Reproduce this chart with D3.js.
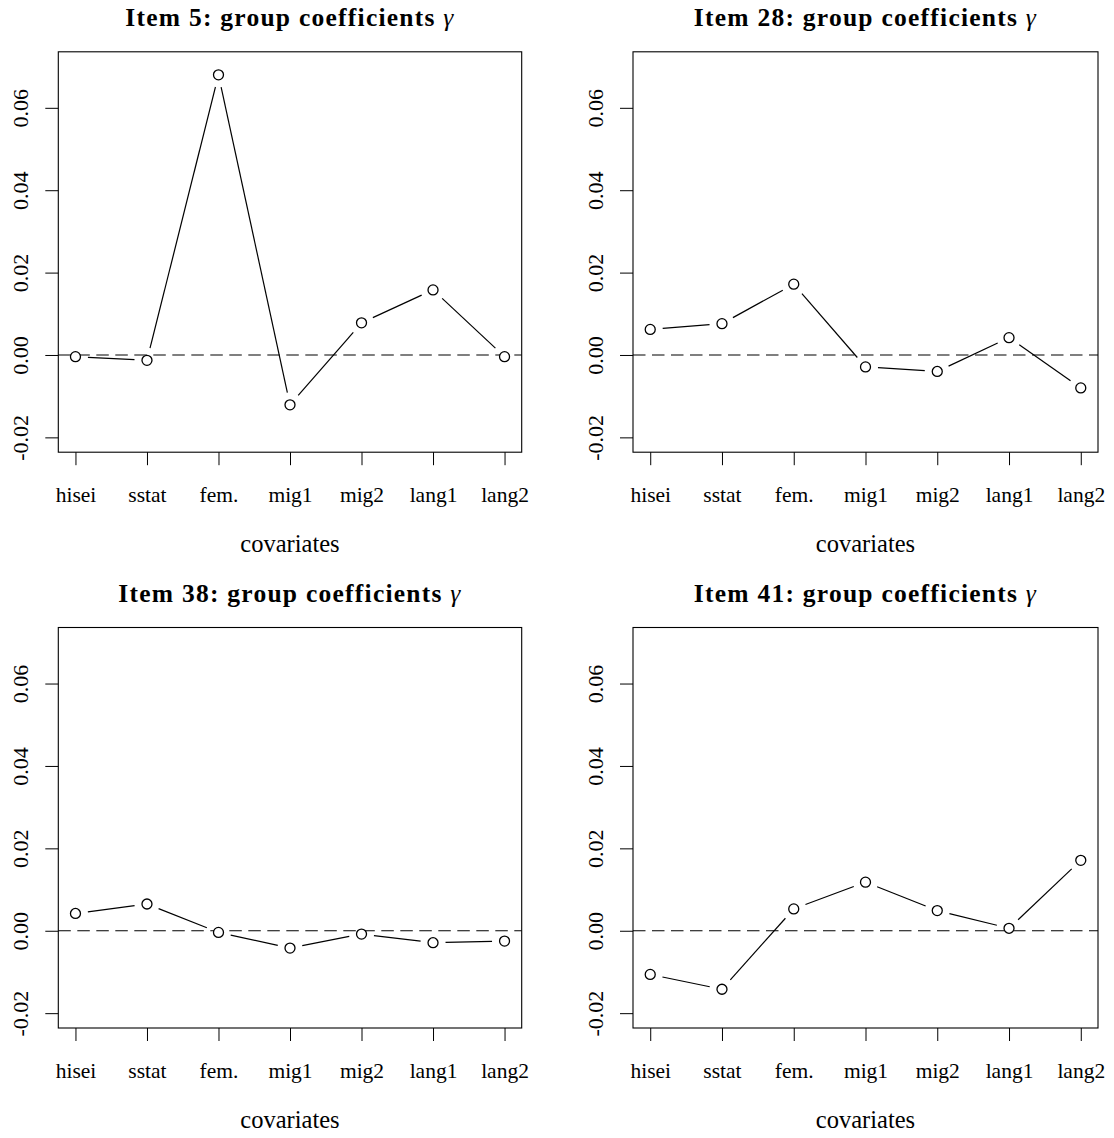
<!DOCTYPE html>
<html>
<head>
<meta charset="utf-8">
<script src="https://cdn.jsdelivr.net/npm/d3@7"></script>
<style>
  html, body { margin: 0; padding: 0; background: #fff; }
  svg { display: block; }
  text { font-family: "Liberation Serif", "Times New Roman", serif; fill: #000; }
</style>
</head>
<body>
<svg id="chart" width="1114" height="1138"></svg>
<script>
// ---- data ----
const categories = ["hisei", "sstat", "fem.", "mig1", "mig2", "lang1", "lang2"];
const itemNumbers = ["5", "28", "38", "41"];
const item5  = [-0.0004, -0.0013, 0.0680, -0.0121, 0.0078, 0.0158, -0.0004];
const item28 = [0.0062, 0.0076, 0.0172, -0.0029, -0.0040, 0.0042, -0.0080];
const item38 = [0.0042, 0.0065, -0.0004, -0.0042, -0.0008, -0.0029, -0.0025];
const item41 = [-0.0106, -0.0142, 0.0053, 0.0118, 0.0049, 0.0006, 0.0171];
const yTicks = [-0.02, 0.00, 0.02, 0.04, 0.06];
const yLimits = [-0.02, 0.07];
const xLabel = "covariates";

const series = [item5, item28, item38, item41];

// ---- layout ----
const panels = [
  {left: 58.3, right: 521.7, top: 51.8, bottom: 452.2},
  {left: 633, right: 1098, top: 51.8, bottom: 452.2},
  {left: 58.3, right: 521.7, top: 627.5, bottom: 1028},
  {left: 633, right: 1098, top: 627.5, bottom: 1028}
];

const svg = d3.select("#chart");
const pad = (a, b) => (b - a) * 0.04;

series.forEach((vals, i) => {
  const p = panels[i];
  const xd = [1, categories.length];
  const xs = d3.scaleLinear()
    .domain([xd[0] - pad(xd[0], xd[1]), xd[1] + pad(xd[0], xd[1])])
    .range([p.left, p.right]);
  const ys = d3.scaleLinear()
    .domain([yLimits[0] - pad(yLimits[0], yLimits[1]), yLimits[1] + pad(yLimits[0], yLimits[1])])
    .range([p.bottom, p.top]);

  const g = svg.append("g");

  // zero reference line (dashed)
  g.append("line")
    .attr("x1", p.left).attr("x2", p.right)
    .attr("y1", ys(0)).attr("y2", ys(0))
    .attr("stroke", "#000").attr("stroke-width", 1.1)
    .attr("stroke-dasharray", "12.5,6.5");

  // x axis
  const xAxis = d3.axisBottom(xs)
    .tickValues(d3.range(1, categories.length + 1))
    .tickFormat(d => categories[d - 1])
    .tickSize(13).tickSizeOuter(0);
  const gx = g.append("g").attr("transform", `translate(0,${p.bottom})`).call(xAxis);
  gx.select(".domain").remove();
  gx.selectAll(".tick line").attr("stroke", "#000").attr("stroke-width", 1);
  gx.selectAll(".tick text")
    .attr("y", 50).attr("dy", 0)
    .style("font-size", "21.5px")
    .style("font-family", "'Liberation Serif', serif")
    .attr("fill", "#000");

  // y axis
  const yAxis = d3.axisLeft(ys)
    .tickValues(yTicks)
    .tickFormat(d3.format(".2f"))
    .tickSize(13).tickSizeOuter(0);
  const gy = g.append("g").attr("transform", `translate(${p.left},0)`).call(yAxis);
  gy.select(".domain").remove();
  gy.selectAll(".tick line").attr("stroke", "#000").attr("stroke-width", 1);
  gy.selectAll(".tick text")
    .text(d => d3.format(".2f")(d).replace("−", "-"))
    .attr("transform", "rotate(-90)")
    .attr("x", 0).attr("y", -30).attr("dy", 0)
    .attr("text-anchor", "middle")
    .style("font-size", "22px")
    .style("font-family", "'Liberation Serif', serif")
    .attr("fill", "#000");

  // box
  g.append("rect")
    .attr("x", p.left).attr("y", p.top)
    .attr("width", p.right - p.left).attr("height", p.bottom - p.top)
    .attr("fill", "none").attr("stroke", "#000").attr("stroke-width", 1.1);

  // line segments with gaps (type = "b")
  const gap = 12.5;
  const pts = vals.map((v, k) => [xs(k + 1), ys(v)]);
  for (let k = 0; k < pts.length - 1; k++) {
    const [x0, y0] = pts[k], [x1, y1] = pts[k + 1];
    const dx = x1 - x0, dy = y1 - y0;
    const len = Math.hypot(dx, dy);
    if (len <= 2 * gap) continue;
    const ux = dx / len, uy = dy / len;
    g.append("line")
      .attr("x1", x0 + ux * gap).attr("y1", y0 + uy * gap)
      .attr("x2", x1 - ux * gap).attr("y2", y1 - uy * gap)
      .attr("stroke", "#000").attr("stroke-width", 1.2);
  }

  // points
  g.selectAll("circle.pt").data(vals).enter().append("circle")
    .attr("class", "pt")
    .attr("cx", (d, k) => xs(k + 1))
    .attr("cy", d => ys(d))
    .attr("r", 5)
    .attr("fill", "#fff")
    .attr("stroke", "#000").attr("stroke-width", 1.3);

  // title
  const cx = (p.left + p.right) / 2;
  const title = g.append("text")
    .attr("x", cx).attr("y", p.top - 25.5)
    .attr("text-anchor", "middle")
    .style("font-size", "25.5px")
    .style("font-weight", "bold")
    .style("letter-spacing", "1.25px");
  title.append("tspan").text(`Item ${itemNumbers[i]}: group coefficients `);
  title.append("tspan").text("γ")
    .style("font-weight", "normal").style("font-style", "italic");

  // x label
  g.append("text")
    .attr("x", cx).attr("y", p.bottom + 99.5)
    .attr("text-anchor", "middle")
    .style("font-size", "24.5px")
    .text(xLabel);
});
</script>
</body>
</html>
